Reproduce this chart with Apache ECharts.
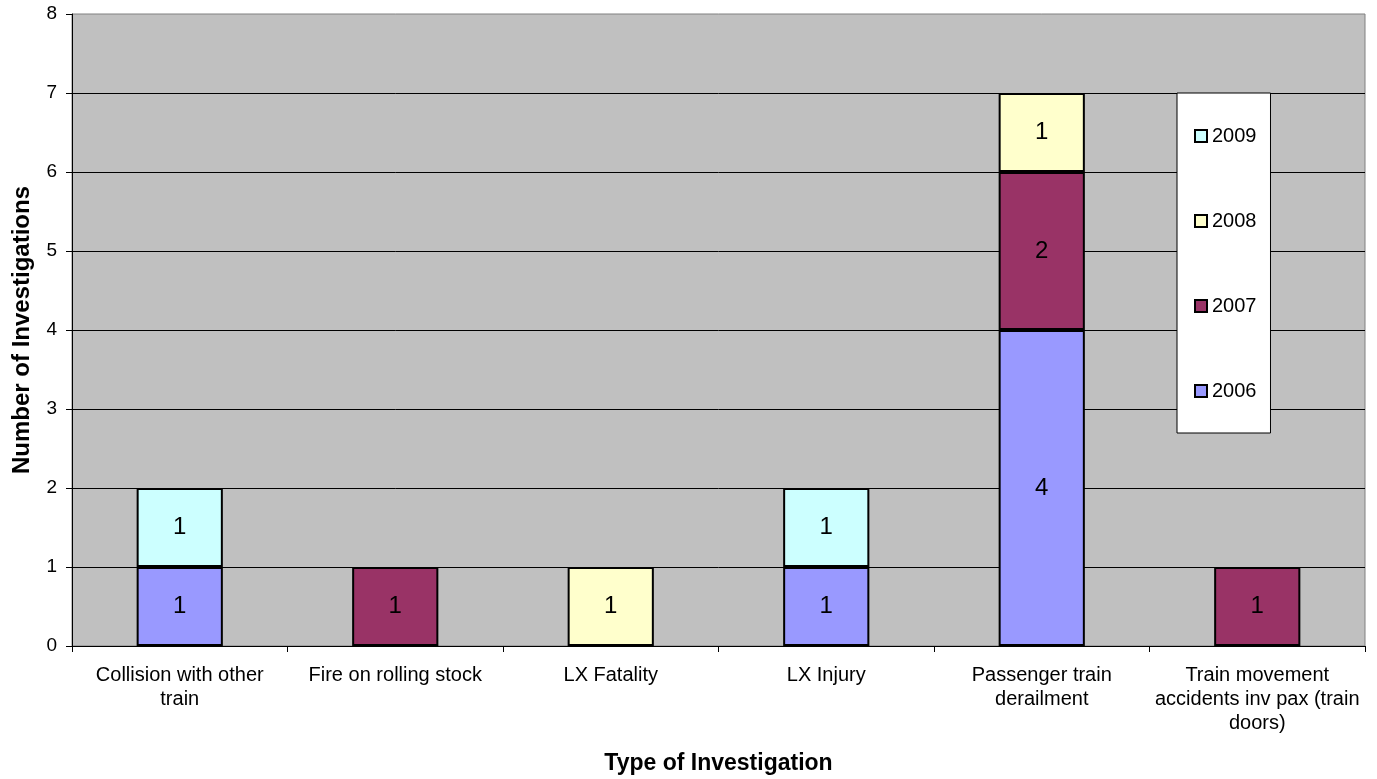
<!DOCTYPE html>
<html>
<head>
<meta charset="utf-8">
<script src="https://cdn.jsdelivr.net/npm/echarts@6/dist/echarts.min.js"></script>
<style>
  html, body { margin: 0; padding: 0; background: #ffffff; }
  #chart { width: 1377px; height: 779px; }
</style>
</head>
<body>
<div id="chart"></div>
<script>
// Investigation types (tick labels, wrapped as printed)
const categories = [
  'Collision with other\ntrain',
  'Fire on rolling stock',
  'LX Fatality',
  'LX Injury',
  'Passenger train\nderailment',
  'Train movement\naccidents inv pax (train\ndoors)'
];

// Number of investigations per year (null = none)
const y2006 = [1, null, null, 1, 4, null];
const y2007 = [null, 1, null, null, 2, 1];
const y2008 = [null, null, 1, null, 1, null];
const y2009 = [1, null, null, 1, null, null];

const yTicks = [0, 1, 2, 3, 4, 5, 6, 7, 8];

const FONT = '"Liberation Sans", Arial, sans-serif';

function stackSeries(name, data, color) {
  return {
    name: name,
    type: 'bar',
    stack: 'total',
    data: data,
    barWidth: '40%',
    itemStyle: { color: color, borderColor: '#000000', borderWidth: 2 },
    label: {
      show: true,
      position: 'inside',
      color: '#000000',
      fontSize: 24,
      fontFamily: FONT
    }
  };
}

const chart = echarts.init(document.getElementById('chart'), null, { renderer: 'canvas' });

chart.setOption({
  animation: false,
  textStyle: { fontFamily: FONT },
  grid: {
    left: 72, right: 12, top: 14, bottom: 133,
    containLabel: false,
    outerBoundsMode: 'none',
    show: true,
    backgroundColor: '#C0C0C0',
    borderColor: '#808080',
    borderWidth: 1
  },
  legend: {
    orient: 'vertical',
    left: 1177,
    top: 93,
    data: ['2009', '2008', '2007', '2006'],
    backgroundColor: '#ffffff',
    borderColor: '#000000',
    borderWidth: 1,
    padding: [33, 14, 32, 17],
    itemGap: 65,
    itemWidth: 12,
    itemHeight: 12,
    icon: 'rect',
    itemStyle: { borderColor: '#000000', borderWidth: 2 },
    textStyle: { fontSize: 20, color: '#000000', fontFamily: FONT }
  },
  xAxis: {
    type: 'category',
    data: categories,
    name: 'Type of Investigation',
    nameLocation: 'middle',
    nameGap: 106,
    nameTextStyle: { fontSize: 23, fontWeight: 'bold', color: '#000000', fontFamily: FONT },
    axisLine: { lineStyle: { color: '#000000', width: 1 } },
    axisTick: { show: true, length: 6, lineStyle: { color: '#000000' } },
    axisLabel: {
      color: '#000000',
      fontSize: 20,
      lineHeight: 24,
      margin: 17,
      interval: 0,
      fontFamily: FONT
    }
  },
  yAxis: {
    type: 'value',
    min: yTicks[0],
    max: yTicks[yTicks.length - 1],
    interval: 1,
    name: 'Number of Investigations',
    nameLocation: 'middle',
    nameGap: 38,
    nameTextStyle: { fontSize: 24, fontWeight: 'bold', color: '#000000', fontFamily: FONT },
    axisLine: { show: true, lineStyle: { color: '#000000', width: 1 } },
    axisTick: { show: true, length: 6, lineStyle: { color: '#000000' } },
    axisLabel: { color: '#000000', fontSize: 19, margin: 15, fontFamily: FONT },
    splitLine: { show: true, showMaxLine: false, lineStyle: { color: '#000000', width: 1 } }
  },
  series: [
    stackSeries('2006', y2006, '#9999FF'),
    stackSeries('2007', y2007, '#993366'),
    stackSeries('2008', y2008, '#FFFFCC'),
    stackSeries('2009', y2009, '#CCFFFF')
  ]
});
</script>
</body>
</html>
